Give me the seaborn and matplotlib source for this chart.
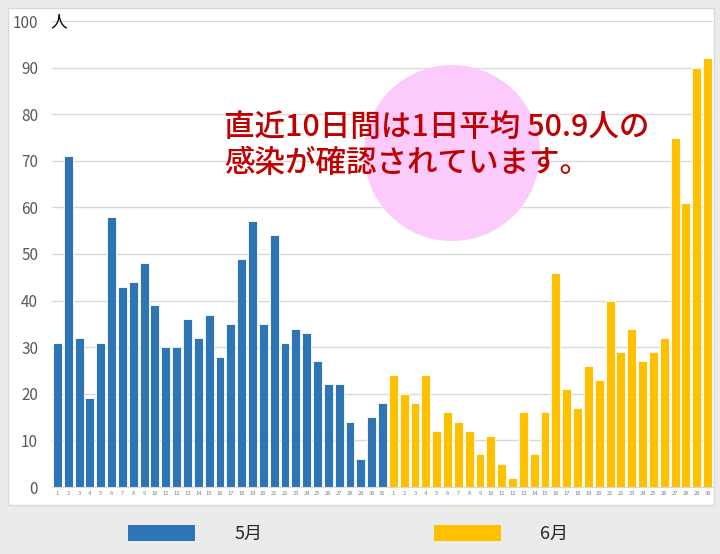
import matplotlib
matplotlib.use('Agg')
import matplotlib.pyplot as plt
from matplotlib.patches import Rectangle, Circle, Patch
import seaborn as sns
import pandas as pd

# daily cases
may_cases = [31, 71, 32, 19, 31, 58, 43, 44, 48, 39, 30, 30, 36, 32, 37, 28,
             35, 49, 57, 35, 54, 31, 34, 33, 27, 22, 22, 14, 6, 15, 18]
june_cases = [24, 20, 18, 24, 12, 16, 14, 12, 7, 11, 5, 2, 16, 7, 16, 46,
              21, 17, 26, 23, 40, 29, 34, 27, 29, 32, 75, 61, 90, 92]
months = ['5月', '6月']
month_colors = ['#2e75b6', '#ffc000']
y_ticks = [0, 10, 20, 30, 40, 50, 60, 70, 80, 90, 100]
note = '直近10日間は1日平均 50.9人の\n感染が確認されています。'

days = list(range(1, len(may_cases) + 1)) + list(range(1, len(june_cases) + 1))
df = pd.DataFrame({
    'pos': range(len(days)),
    'day': days,
    'cases': may_cases + june_cases,
    'month': [months[0]] * len(may_cases) + [months[1]] * len(june_cases),
})

sns.set_style('white')
plt.rcParams['font.family'] = ['Noto Sans CJK JP', 'DejaVu Sans']

fig = plt.figure(figsize=(7.2, 5.54), dpi=100)
fig.patch.set_facecolor('#ebebeb')

# white chart panel
panel = Rectangle((8 / 720, 49 / 554), 706 / 720, 497 / 554, transform=fig.transFigure,
                  facecolor='white', edgecolor='#d9d9d9', linewidth=1, zorder=-1)
fig.add_artist(panel)

ax = fig.add_axes([52 / 720, 67 / 554, 661 / 720, 466 / 554])
ax.set_facecolor('none')
sns.barplot(data=df, x='pos', y='cases', hue='month', palette=month_colors,
            dodge=False, width=0.82, edgecolor='white', linewidth=0.6,
            saturation=1, legend=False, ax=ax, zorder=2)

ax.set_ylim(0, 100)
ax.set_xlim(-0.5, len(days) - 0.5)
ax.set_yticks(y_ticks)
ax.set_yticklabels([str(t) for t in y_ticks], fontsize=11, color='#595959')
ax.set_xticks(df['pos'])
ax.set_xticklabels(df['day'], fontsize=4.2, color='#7f7f7f')
ax.tick_params(axis='y', length=0, pad=10)
ax.tick_params(axis='x', length=0, pad=3)
ax.grid(axis='y', color='#d9d9d9', linewidth=1, zorder=0)
ax.set_axisbelow(True)
ax.set_xlabel('')
ax.set_ylabel('')
for s in ['top', 'right', 'left']:
    ax.spines[s].set_visible(False)
ax.spines['bottom'].set_color('#d9d9d9')

fig.text(50 / 720, 1 - 22 / 554, '人', fontsize=12, color='black', va='center')

# pink circle and note
circle = Circle((4.52, 5.54 - 1.53), 0.88, transform=fig.dpi_scale_trans,
                facecolor='#fccbfc', edgecolor='none', zorder=1)
fig.add_artist(circle)
fig.text(224 / 720, 1 - 112 / 554, note, fontsize=22, color='#c00000',
         fontweight='medium', va='top', ha='left', linespacing=1.2, zorder=2)

handles = [Patch(facecolor=c, edgecolor='none') for c in month_colors]
fig.legend(handles, months, loc='center', bbox_to_anchor=(348 / 720, 20 / 554), ncol=2,
           frameon=False, fontsize=13, handlelength=3.7, handleheight=1.0,
           handletextpad=2.2, columnspacing=9.5)

fig.savefig('out.png', dpi=100, facecolor=fig.get_facecolor())
